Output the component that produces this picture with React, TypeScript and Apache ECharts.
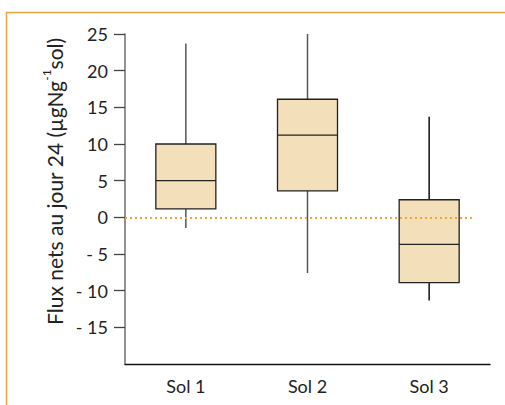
import React, { useEffect, useRef } from "react";
import * as echarts from "echarts";

const categories = ["Sol 1", "Sol 2", "Sol 3"];
// [min, Q1, median, Q3, max]
const whiskerLow = [-1.45, -7.6, -11.35];
const quartile1 = [1.15, 3.6, -8.9];
const medians = [5.0, 11.2, -3.7];
const quartile3 = [10.0, 16.1, 2.4];
const whiskerHigh = [23.7, 25.0, 13.7];
const yTicks = [-15, -10, -5, 0, 5, 10, 15, 20, 25];
const yMin = -20;
const yMax = 25;
const referenceValue = 0;

const FONT = "Lato";
const BOX_W = 60;

export default function App() {
  const ref = useRef<HTMLDivElement>(null);
  useEffect(() => {
    document.body.style.margin = "0";
    if (!ref.current) return;
    const chart = echarts.init(ref.current, null, { renderer: "svg" });
    const data = categories.map((_, i) => [
      i,
      whiskerLow[i],
      quartile1[i],
      medians[i],
      quartile3[i],
      whiskerHigh[i],
    ]);
    chart.setOption({
      animation: false,
      backgroundColor: "#ffffff",
      textStyle: { fontFamily: FONT },
      graphic: [
        {
          type: "rect",
          shape: { x: 6.5, y: 12.5, width: 700, height: 600 },
          style: { fill: "none", stroke: "#E9A43C", lineWidth: 1.5 },
          silent: true,
        },
      ],
      grid: { left: 125, right: 15, top: 34, bottom: 41, containLabel: false },
      xAxis: {
        type: "category",
        data: categories,
        boundaryGap: true,
        axisLine: { show: true, onZero: false, lineStyle: { color: "#111", width: 1.3 } },
        axisTick: { show: false },
        axisLabel: {
          margin: 13,
          fontFamily: FONT,
          fontSize: 18,
          color: "#222",
        },
      },
      yAxis: {
        type: "value",
        min: yMin,
        max: yMax,
        interval: 5,
        name: "{n|Flux nets au jour 24 (µgNg}{s|-1}{n|sol)}",
        nameLocation: "middle",
        nameGap: 47,
        nameTextStyle: {
          fontFamily: FONT,
          fontSize: 21,
          color: "#222",
          padding: [0, 0, 0, 35],
          rich: {
            n: { fontFamily: FONT, fontSize: 21, color: "#222", lineHeight: 24, verticalAlign: "bottom" },
            s: { fontFamily: FONT, fontSize: 12, color: "#222", lineHeight: 24, verticalAlign: "top" },
          },
        },
        splitLine: { show: false },
        axisLine: { show: true, onZero: false, lineStyle: { color: "#777", width: 1.6 } },
        axisTick: {
          show: true,
          length: 11,
          customValues: yTicks,
          lineStyle: { color: "#444", width: 1.3 },
        },
        axisLabel: {
          margin: 17,
          fontFamily: FONT,
          fontSize: 18,
          color: "#222",
          customValues: yTicks,
          formatter: (v: number) => (v < 0 ? "- " + Math.abs(v) : String(v)),
        },
      },
      series: [
        {
          type: "custom",
          data,
          encode: { x: 0, y: [1, 2, 3, 4, 5] },
          renderItem: (params: any, api: any) => {
            const x = api.value(0);
            const lo = api.coord([x, api.value(1)]);
            const q1 = api.coord([x, api.value(2)]);
            const med = api.coord([x, api.value(3)]);
            const q3 = api.coord([x, api.value(4)]);
            const hi = api.coord([x, api.value(5)]);
            const h = BOX_W / 2;
            const whisker = params.dataIndex === 2 ? "#111" : "#555";
            return {
              type: "group",
              children: [
                {
                  type: "line",
                  shape: { x1: hi[0], y1: hi[1], x2: q3[0], y2: q3[1] },
                  style: { stroke: whisker, lineWidth: 1.5 },
                },
                {
                  type: "line",
                  shape: { x1: q1[0], y1: q1[1], x2: lo[0], y2: lo[1] },
                  style: { stroke: whisker, lineWidth: 1.5 },
                },
                {
                  type: "rect",
                  shape: { x: q3[0] - h, y: q3[1], width: BOX_W, height: q1[1] - q3[1] },
                  style: { fill: "#F3DFB9", stroke: "#222", lineWidth: 1.3 },
                },
                {
                  type: "line",
                  shape: { x1: med[0] - h, y1: med[1], x2: med[0] + h, y2: med[1] },
                  style: { stroke: "#222", lineWidth: 1.3 },
                },
              ],
            };
          },
          markLine: {
            silent: true,
            symbol: ["none", "none"],
            label: { show: false },
            lineStyle: { color: "#E8A93A", type: [2, 3], width: 2 },
            data: [[{ yAxis: referenceValue, x: 125 }, { yAxis: referenceValue, x: 472 }]],
          },
        },
      ],
    });
    return () => chart.dispose();
  }, []);
  return <div ref={ref} style={{ width: 505, height: 405 }} />;
}
